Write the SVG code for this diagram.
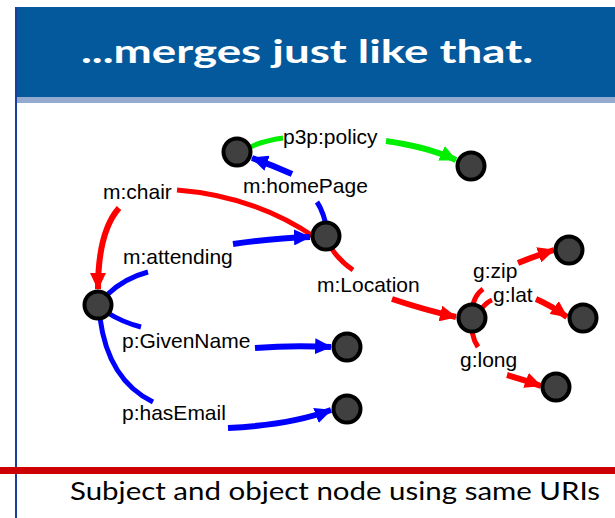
<svg xmlns="http://www.w3.org/2000/svg" width="615" height="518" viewBox="0 0 615 518">
<style>
.node{fill:#404040;stroke:#000;stroke-width:4}
.lbl{font-family:"Liberation Sans",Arial,sans-serif;font-size:21px;fill:#000}
.e{fill:none;stroke-width:5;stroke-linecap:butt}
.t{stroke-width:6}
.r{stroke:#FF0000}.b{stroke:#0000FF}.g{stroke:#00EE00}
</style>
<defs>
<marker id="ar" markerUnits="userSpaceOnUse" markerWidth="18" markerHeight="16" refX="16" refY="8" orient="auto"><path d="M0,0 L17,8 L0,16 z" fill="#FF0000"/></marker>
<marker id="ab" markerUnits="userSpaceOnUse" markerWidth="18" markerHeight="16" refX="16" refY="8" orient="auto"><path d="M0,0 L17,8 L0,16 z" fill="#0000FF"/></marker>
<marker id="ag" markerUnits="userSpaceOnUse" markerWidth="18" markerHeight="16" refX="16" refY="8" orient="auto"><path d="M0,0 L17,8 L0,16 z" fill="#00EE00"/></marker>
</defs>
<rect width="615" height="518" fill="#fff"/>
<g id="header">
<rect x="15" y="7" width="600" height="91" fill="#04599C"/>
<rect x="15" y="97" width="600" height="6" fill="#94AACF"/>
<text x="307" y="63" text-anchor="middle" font-family="Lato,'Open Sans',sans-serif" font-weight="bold" font-size="32" fill="#fff" textLength="452" lengthAdjust="spacingAndGlyphs">...merges just like that.</text>
</g>
<rect x="15" y="7" width="2" height="511" fill="#1A3E9A"/>
<g id="footer">
<rect x="0" y="467" width="615" height="7" fill="#CC0000"/>
<text x="70" y="500" font-family="Lato,'Open Sans',sans-serif" font-size="25" fill="#000" textLength="530" lengthAdjust="spacingAndGlyphs">Subject and object node using same URIs</text>
</g>
<g id="connectors">
<path class="e g" d="M237,154 Q255,142 283,138"/>
<path class="e t g" d="M386,141 Q428,147 456,160" marker-end="url(#ag)"/>
<path class="e b" d="M328,234 Q324,212 317,202"/>
<path class="e t b" d="M292,174 Q272,165 252,158" marker-end="url(#ab)"/>
<path class="e r" d="M316,238 Q255,196 177,190"/>
<path class="e t r" d="M119,208 Q98,232 98,289" marker-end="url(#ar)"/>
<path class="e b" d="M108,294 Q125,278 148,272"/>
<path class="e t b" d="M233,244 Q275,238 310,237" marker-end="url(#ab)"/>
<path class="e r" d="M324,236 Q335,258 353,270"/>
<path class="e t r" d="M392,299 Q425,310 456,317" marker-end="url(#ar)"/>
<path class="e b" d="M108,313 Q122,322 141,327"/>
<path class="e t b" d="M255,348 Q292,345 331,347" marker-end="url(#ab)"/>
<path class="e b" d="M100,318 Q108,380 153,402"/>
<path class="e t b" d="M228,428 Q290,425 331,410" marker-end="url(#ab)"/>
<path class="e r" d="M473,304 Q476,294 483,289"/>
<path class="e t r" d="M518,263 Q535,256 554,250" marker-end="url(#ar)"/>
<path class="e r" d="M482,308 Q487,302 492,300"/>
<path class="e t r" d="M536,299 Q552,306 567,317" marker-end="url(#ar)"/>
<path class="e r" d="M472,318 Q470,335 478,347"/>
<path class="e t r" d="M507,375 Q525,380 541,386" marker-end="url(#ar)"/>
</g>
<g id="n1"><circle class="node" cx="237" cy="152" r="13.5"/></g>
<g id="n2"><circle class="node" cx="471" cy="166" r="13.5"/></g>
<g id="n3"><circle class="node" cx="326" cy="236" r="13.5"/></g>
<g id="n4"><circle class="node" cx="98" cy="305" r="13.5"/></g>
<g id="n5"><circle class="node" cx="347" cy="347" r="13.5"/></g>
<g id="n6"><circle class="node" cx="347" cy="409" r="13.5"/></g>
<g id="n7"><circle class="node" cx="472" cy="318" r="13.5"/></g>
<g id="n8"><circle class="node" cx="569" cy="250" r="13.5"/></g>
<g id="n9"><circle class="node" cx="583" cy="318" r="13.5"/></g>
<g id="n10"><circle class="node" cx="556" cy="387" r="13.5"/></g>
<g id="labels">
<text class="lbl" x="283" y="144">p3p:policy</text>
<text class="lbl" x="243" y="193">m:homePage</text>
<text class="lbl" x="103" y="199">m:chair</text>
<text class="lbl" x="123" y="264">m:attending</text>
<text class="lbl" x="317" y="292">m:Location</text>
<text class="lbl" x="122" y="348">p:GivenName</text>
<text class="lbl" x="122" y="420">p:hasEmail</text>
<text class="lbl" x="473" y="278">g:zip</text>
<text class="lbl" x="493" y="302">g:lat</text>
<text class="lbl" x="460" y="367">g:long</text>
</g>
</svg>
